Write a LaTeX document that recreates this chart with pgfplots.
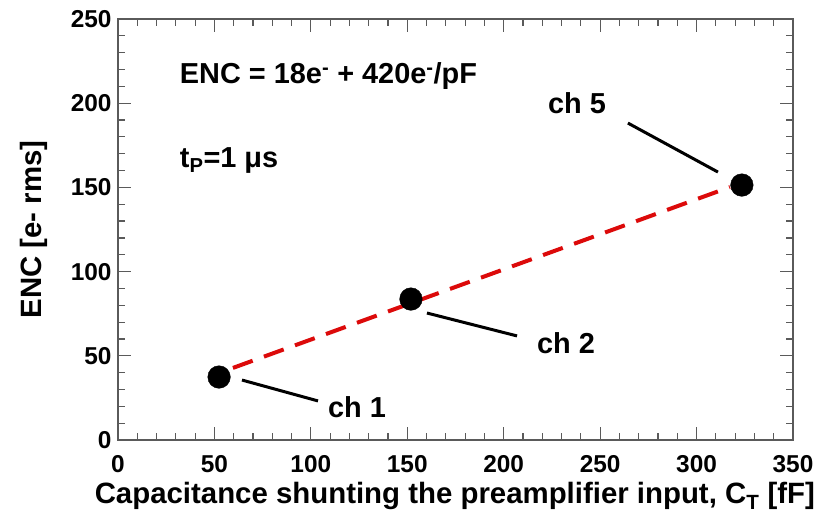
\documentclass[border=0pt]{standalone}
\usepackage{fontspec}
\setmainfont{Liberation Sans}
\usepackage{pgfplots}
\pgfplotsset{compat=1.18}
\definecolor{axisgray}{RGB}{90,90,90}
\definecolor{fitred}{RGB}{220,10,10}
\begin{document}
\begin{tikzpicture}[x=1bp,y=1bp]
\useasboundingbox (-118bp,-79bp) rectangle (709bp,440bp);
\begin{axis}[
  at={(0,0)}, anchor=south west,
  scale only axis,
  width=675bp, height=421bp,
  xmin=0, xmax=350, ymin=0, ymax=250,
  xtick={0,50,...,350}, ytick={0,50,...,250},
  minor x tick num=4, minor y tick num=4,
  tick align=inside,
  major tick length=13bp, minor tick length=7bp,
  axis line style={axisgray, line width=1.5bp},
  every tick/.style={axisgray, line width=1.2bp},
  /pgf/number format/assume math mode=true,
  tick label style={font=\fontsize{24.5}{28}\selectfont\bfseries},
  xticklabel style={yshift=-12bp},
  yticklabel style={xshift=-3bp},
  label style={font=\fontsize{29.5}{32}\selectfont\bfseries},
  xlabel={Capacitance shunting the preamplifier input, C\textsubscript{T} [fF]},
  ylabel={ENC [e- rms]},
  xlabel style={at={(axis description cs:0.499,-0.133)}, anchor=center},
  ylabel style={at={(axis description cs:-0.125,0.5)}, anchor=center},
  clip=false,
]
% fit line ENC = 18 + 420 e/pF
\addplot[fitred, line width=4bp, dash pattern=on 21bp off 12bp] coordinates {(59.6,42.8) (317.3,150.2)};
% measured points
\addplot[only marks, mark=*, mark size=11.3bp, black] coordinates {(52.4,37.4) (151.9,83.7) (323.5,151.4)};
% callouts
\draw[black, line width=3bp] (axis cs:64.3,35.6) -- (axis cs:103.7,23.2);
\draw[black, line width=3bp] (axis cs:160.2,75.4) -- (axis cs:206.9,61.8);
\draw[black, line width=3bp] (axis cs:264.4,188.2) -- (axis cs:311.1,159.1);
\begin{scope}[every node/.style={font=\fontsize{29}{32}\selectfont\bfseries}]
\node at (axis cs:123.9,19.6) {ch 1};
\node at (axis cs:232.3,57.6) {ch 2};
\node at (axis cs:238.0,200.1) {ch 5};
\node[anchor=west, inner sep=0pt] at (axis cs:32,216) {ENC = 18e\textsuperscript{-} + 420e\textsuperscript{-}/pF};
\node[anchor=west, inner sep=0pt] at (axis cs:32,166) {t\textsubscript{P}=1 μs};
\end{scope}
\end{axis}
\end{tikzpicture}
\end{document}
